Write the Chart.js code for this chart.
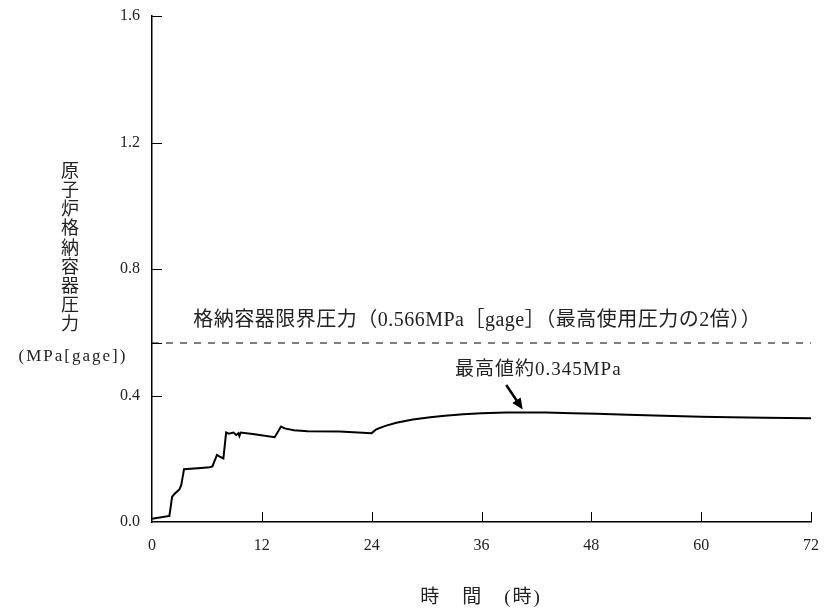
<!DOCTYPE html>
<html>
<head>
<meta charset="utf-8">
<script src="https://cdn.jsdelivr.net/npm/chart.js@4"></script>
<style>
  body { margin: 0; background: #fff; }
</style>
</head>
<body>
<canvas id="chart" width="827" height="609"></canvas>
<script>
// 時間 (h) と 原子炉格納容器圧力 (MPa[gage])
const hours = [0, 1.9, 2.1, 2.2, 2.5, 3.0, 3.2, 3.5, 5.0, 6.3,
  6.6, 7.1, 7.4, 7.8, 8.1, 8.4, 8.9, 9.2, 9.45, 9.55,
  9.7, 11, 13.4, 14.1, 14.5, 15.5, 17, 20.5, 24.0, 24.5,
  25.5, 26.7, 28.5, 30.4, 32, 34, 36, 38.7, 41, 43,
  46, 48.6, 52, 55.9, 60, 63.2, 67, 72];
const pressure = [0.010, 0.019, 0.060, 0.080, 0.090, 0.103, 0.117, 0.167, 0.170, 0.173,
  0.176, 0.212, 0.207, 0.201, 0.283, 0.279, 0.283, 0.275, 0.281, 0.272,
  0.283, 0.278, 0.268, 0.302, 0.296, 0.290, 0.287, 0.286, 0.281, 0.293,
  0.304, 0.314, 0.324, 0.331, 0.336, 0.341, 0.344, 0.346, 0.346, 0.346,
  0.344, 0.342, 0.339, 0.336, 0.333, 0.331, 0.330, 0.328];

const limitPressure = 0.566;
const xTicks = [0, 12, 24, 36, 48, 60, 72];
const yTicks = [0.0, 0.4, 0.8, 1.2, 1.6];

const limitLabel = '格納容器限界圧力（0.566MPa［gage］（最高使用圧力の2倍））';
const peakLabel = '最高値約0.345MPa';
const yTitle = '原子炉格納容器圧力';
const yUnit = '(MPa[gage])';
const xTitle = '時　間　(時)';

const serif = '"Liberation Serif", "Noto Sans CJK JP", serif';

// 内向きの目盛り・注記・軸タイトル
const extras = {
  id: 'extras',
  afterDraw(chart) {
    const ctx = chart.ctx;
    const xs = chart.scales.x;
    const ys = chart.scales.y;
    ctx.save();
    ctx.strokeStyle = '#000';
    ctx.lineWidth = 1;
    ctx.beginPath();
    yTicks.concat([limitPressure]).forEach(v => {
      if (v === 0) return;
      const py = Math.round(ys.getPixelForValue(v)) + 0.5;
      ctx.moveTo(xs.left, py);
      ctx.lineTo(xs.left + 10, py);
    });
    xTicks.forEach(v => {
      if (v === 0) return;
      const px = Math.round(xs.getPixelForValue(v)) + 0.5;
      ctx.moveTo(px, ys.bottom);
      ctx.lineTo(px, ys.bottom - 10);
    });
    ctx.stroke();

    // 最高値の矢印
    const ax0 = xs.getPixelForValue(38.7), ay0 = ys.getPixelForValue(0.433);
    const ax1 = xs.getPixelForValue(40.5), ay1 = ys.getPixelForValue(0.356);
    const ang = Math.atan2(ay1 - ay0, ax1 - ax0);
    ctx.lineWidth = 2.5;
    ctx.beginPath();
    ctx.moveTo(ax0, ay0);
    ctx.lineTo(ax1 - 8 * Math.cos(ang), ay1 - 8 * Math.sin(ang));
    ctx.stroke();
    ctx.fillStyle = '#000';
    ctx.beginPath();
    ctx.moveTo(ax1, ay1);
    ctx.lineTo(ax1 - 11 * Math.cos(ang) + 5 * Math.sin(ang), ay1 - 11 * Math.sin(ang) - 5 * Math.cos(ang));
    ctx.lineTo(ax1 - 11 * Math.cos(ang) - 5 * Math.sin(ang), ay1 - 11 * Math.sin(ang) + 5 * Math.cos(ang));
    ctx.closePath();
    ctx.fill();

    ctx.fillStyle = '#222';
    ctx.textBaseline = 'middle';
    ctx.textAlign = 'left';
    ctx.font = '19px ' + serif;
    ctx.letterSpacing = '1px';
    ctx.fillText(peakLabel, xs.getPixelForValue(33.1), ys.getPixelForValue(0.481));
    ctx.font = '20px ' + serif;
    ctx.letterSpacing = '0.5px';
    ctx.fillText(limitLabel, xs.getPixelForValue(4.5), ys.getPixelForValue(limitPressure) - 22);
    ctx.letterSpacing = '0px';

    // 縦書きの軸タイトル
    ctx.textAlign = 'center';
    ctx.font = '18px "Noto Sans CJK JP", sans-serif';
    Array.from(yTitle).forEach((c, i) => {
      ctx.fillText(c, 70, 170 + i * 19.2);
    });
    ctx.font = '17px ' + serif;
    ctx.letterSpacing = '2px';
    ctx.fillText(yUnit, 73, 357);

    ctx.font = '19px ' + serif;
    ctx.fillText(xTitle, 481, 598);
    ctx.letterSpacing = '0px';
    ctx.restore();
  }
};

const ctx = document.getElementById('chart').getContext('2d');
new Chart(ctx, {
  type: 'line',
  data: {
    datasets: [
      {
        label: 'pressure',
        data: hours.map((h, i) => ({ x: h, y: pressure[i] })),
        borderColor: '#000',
        borderWidth: 2,
        pointRadius: 0,
        tension: 0,
        fill: false,
      },
      {
        label: 'limit',
        data: [{ x: 0, y: limitPressure }, { x: 72, y: limitPressure }],
        borderColor: '#000',
        borderWidth: 1,
        borderDash: [7, 7],
        pointRadius: 0,
        fill: false,
      },
    ],
  },
  options: {
    responsive: false,
    animation: false,
    devicePixelRatio: 1,
    layout: { padding: { top: 16, right: 16, left: 0, bottom: 0 } },
    plugins: { legend: { display: false }, tooltip: { enabled: false } },
    scales: {
      x: {
        type: 'linear',
        min: 0,
        max: 72,
        afterFit: (s) => { s.height = 87; s.paddingLeft = 0; s.paddingRight = 0; },
        afterBuildTicks: (s) => { s.ticks = xTicks.map(v => ({ value: v })); },
        ticks: { padding: 14, color: '#222', font: { family: serif, size: 16 } },
        grid: { drawOnChartArea: false, drawTicks: false },
        border: { color: '#000', width: 1.5 },
      },
      y: {
        min: 0,
        max: 1.6,
        afterFit: (s) => { s.width = 152; s.paddingTop = 0; s.paddingBottom = 0; },
        afterBuildTicks: (s) => { s.ticks = yTicks.map(v => ({ value: v })); },
        ticks: { padding: 12, color: '#222', font: { family: serif, size: 16 },
          callback: (v) => v.toFixed(1) },
        grid: { drawOnChartArea: false, drawTicks: false },
        border: { color: '#000', width: 1.5 },
      },
    },
  },
  plugins: [extras],
});
</script>
</body>
</html>
